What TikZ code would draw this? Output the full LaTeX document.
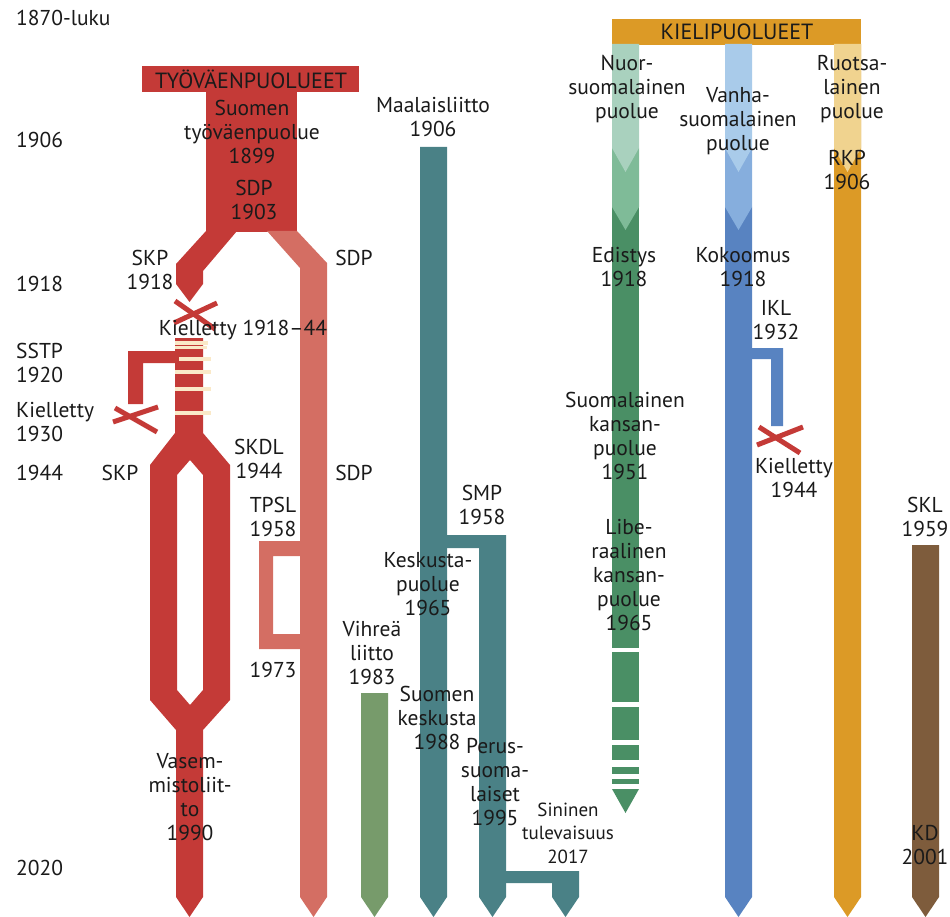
\documentclass[tikz,border=0pt]{standalone}
\usepackage{fontspec}
\setmainfont{PT Sans}
\definecolor{cred}{HTML}{C43A37}
\definecolor{cpink}{HTML}{D46E63}
\definecolor{cteal}{HTML}{4A8186}
\definecolor{cgreen}{HTML}{779B6B}
\definecolor{corange}{HTML}{DC9A26}
\definecolor{olight}{HTML}{F0D38F}
\definecolor{glight}{HTML}{A9D1BE}
\definecolor{gmid}{HTML}{7FBB98}
\definecolor{gdark}{HTML}{4A8F65}
\definecolor{blight}{HTML}{A9CBEA}
\definecolor{bmid}{HTML}{86AEDD}
\definecolor{bdark}{HTML}{5883C1}
\definecolor{cbrown}{HTML}{7E5C3C}
\definecolor{cream}{HTML}{FAE9C8}
\definecolor{txt}{HTML}{1A1A1A}
\begin{document}
\begin{tikzpicture}[x=1pt,y=-1pt,
  lbl/.style={font=\fontsize{21.5}{24}\selectfont, align=center, inner sep=0pt, text=txt},
  head/.style={lbl, font=\fontsize{22}{24}\selectfont},
  small/.style={lbl, font=\fontsize{19}{23.5}\selectfont},
  lft/.style={lbl, anchor=west, align=left},
  xmark/.style={draw=cred, line width=5pt},
  stripe/.style={draw=cream, line width=3.5pt}]
\useasboundingbox (0,0) rectangle (950,917);
% ---------- red: tyovaenpuolueet ----------
\fill[cred] (142,66) rectangle (359,92);
\fill[cred] (206,91) rectangle (297,232);
\fill[cpink] (267,231) -- (297,231) -- (327,263) -- (327,897) -- (313.5,917) -- (300,897) -- (300,268) -- cycle;
\fill[cred] (206,231) -- (237,231) -- (203,271) -- (203,284) -- (189.5,302) -- (176,284) -- (176,264) -- cycle;
\draw[xmark] (175,301) -- (215,329);
\draw[xmark] (217,303) -- (174,323);
\fill[cred, even odd rule] (175,338) -- (203,338) -- (203,433) -- (230,465) -- (230,700) -- (203,730) -- (203,897) -- (189.5,917) -- (176,897) -- (176,730) -- (150,700) -- (150,465) -- (175,433) -- cycle
  (190,460) -- (203,475) -- (203,690) -- (190,705) -- (177,690) -- (177,475) -- cycle;
\fill[cred] (128,351) -- (176,351) -- (176,363) -- (143,363) -- (143,404) -- (128,404) -- cycle;
\foreach \yy/\xa/\xb in {343/175/208, 347.5/175/207, 359/179/211, 372/175/211, 389/175/211, 413/175/211}
  \draw[stripe] (\xa,\yy) -- (\xb,\yy);
\draw[xmark] (115,408) -- (157,432);
\draw[xmark] (113,422) -- (158,407);
\fill[cpink, even odd rule] (259,541) rectangle (301,649) (273,556) rectangle (300,634);
% ---------- green vihrea ----------
\fill[cgreen] (361,693) -- (388,693) -- (388,897) -- (374.5,917) -- (361,897) -- cycle;
% ---------- teal ----------
\fill[cteal] (420,147) -- (447,147) -- (447,897) -- (433.5,917) -- (420,897) -- cycle;
\fill[cteal] (446,535) -- (506,535) -- (506,897) -- (492.5,917) -- (479,897) -- (479,548) -- (446,548) -- cycle;
\fill[cteal] (505,871) -- (579,871) -- (579,897) -- (565.5,917) -- (552,897) -- (552,883) -- (505,883) -- cycle;
% ---------- kielipuolueet ----------
\fill[corange] (612,19) rectangle (861,45);
% green column
\fill[gdark] (612,207) rectangle (639,648);
\foreach \ya/\yb in {652/702, 707/740, 745/760, 767/774, 779/784}
  \fill[gdark] (612,\ya) rectangle (639,\yb);
\fill[gdark] (612,789) -- (639,789) -- (625.5,813) -- cycle;
\fill[gmid] (612,148) -- (639,148) -- (639,207) -- (625.5,230) -- (612,207) -- cycle;
\fill[glight] (612,44) -- (639,44) -- (639,148) -- (625.5,172) -- (612,148) -- cycle;
% blue column
\fill[bdark] (725,207) -- (752,207) -- (752,897) -- (738.5,917) -- (725,897) -- cycle;
\fill[bmid] (725,148) -- (752,148) -- (752,207) -- (738.5,230) -- (725,207) -- cycle;
\fill[blight] (725,44) -- (752,44) -- (752,148) -- (738.5,172) -- (725,148) -- cycle;
\fill[bdark] (751,348) -- (783,348) -- (783,426) -- (771,426) -- (771,359) -- (751,359) -- cycle;
\draw[xmark] (759,427) -- (800,453);
\draw[xmark] (757,445) -- (803,427);
% orange column
\fill[corange] (834,44) -- (861,44) -- (861,897) -- (847.5,917) -- (834,897) -- cycle;
\fill[olight] (834,44) -- (861,44) -- (861,148) -- (847.5,172) -- (834,148) -- cycle;
% brown
\fill[cbrown] (912,545) -- (939,545) -- (939,897) -- (925.5,917) -- (912,897) -- cycle;
% ---------- labels ----------
\node[lft] (l1870) at (16,18) {1870-luku};
\node[lft] (l1906) at (16,140) {1906};
\node[lft] (l1918) at (16,284) {1918};
\node[lft] (lsstp) at (16,363) {SSTP\\1920};
\node[lft] (lkiel) at (16,422) {Kielletty\\1930};
\node[lft] (l1944) at (16,473) {1944};
\node[lft] (l2020) at (16,868) {2020};
\node[head] (tyo) at (251,79) {TYÖVÄENPUOLUEET};
\node[lbl] (stp) at (252,132) {Suomen\\työväenpuolue\\1899};
\node[lbl] (sdp03) at (254,200) {SDP\\1903};
\node[lbl] (skp18) at (150,270) {SKP\\1918};
\node[lbl] (sdpa) at (354,258) {SDP};
\node[lbl] (kiel18) at (243,330) {Kielletty 1918–44};
\node[lbl] (skp) at (120,473) {SKP};
\node[lbl] (skdl) at (259,459) {SKDL\\1944};
\node[lbl] (sdpb) at (354,473) {SDP};
\node[lbl] (tpsl) at (273,517) {TPSL\\1958};
\node[lbl] (t1973) at (273,670) {1973};
\node[lbl] (vasem) at (190,797) {Vasem-\\mistoliit-\\to\\1990};
\node[lbl] (vihrea) at (372,653) {Vihreä\\liitto\\1983};
\node[lbl] (maal) at (433,117) {Maalaisliitto\\1906};
\node[lbl] (smp) at (482,505) {SMP\\1958};
\node[lbl] (kesk) at (428,584) {Keskusta-\\puolue\\1965};
\node[lbl] (skesk) at (437,718) {Suomen\\keskusta\\1988};
\node[lbl] (perus) at (495,782) {Perus-\\suoma-\\laiset\\1995};
\node[small] (sini) at (568,833) {Sininen\\tulevaisuus\\2017};
\node[head] (kieli) at (737,32) {KIELIPUOLUEET};
\node[lbl] (nuor) at (627,89) {Nuor-\\suomalainen\\puolue};
\node[lbl] (vanha) at (738,121) {Vanha-\\suomalainen\\puolue};
\node[lbl] (ruots) at (852,89) {Ruotsa-\\lainen\\puolue};
\node[lbl] (rkp) at (847,170) {RKP\\1906};
\node[lbl] (edist) at (624,267) {Edistys\\1918};
\node[lbl] (kok) at (743,267) {Kokoomus\\1918};
\node[lbl] (ikl) at (776,320) {IKL\\1932};
\node[lbl] (skp51) at (625,436) {Suomalainen\\kansan-\\puolue\\1951};
\node[lbl] (kiel44) at (794,478) {Kielletty\\1944};
\node[lbl] (lkp) at (629,575) {Libe-\\raalinen\\kansan-\\puolue\\1965};
\node[lbl] (skl) at (925,517) {SKL\\1959};
\node[lbl] (kd) at (925,845) {KD\\2001};
\end{tikzpicture}
\end{document}
